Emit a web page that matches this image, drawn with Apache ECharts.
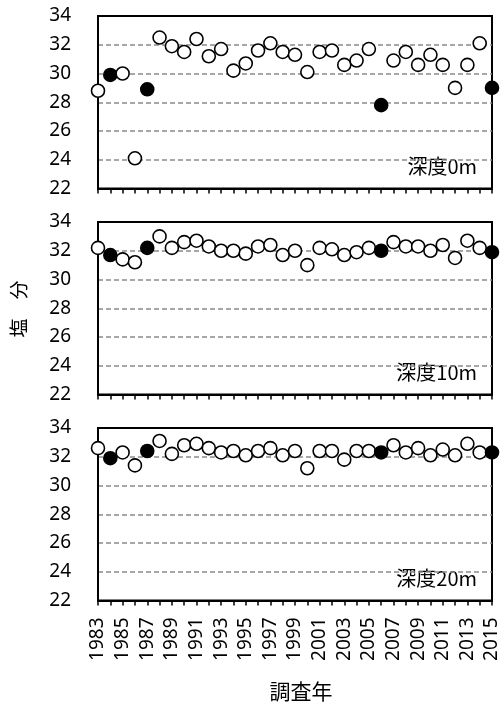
<!DOCTYPE html>
<html>
<head>
<meta charset="utf-8">
<script src="https://cdn.jsdelivr.net/npm/echarts@6/dist/echarts.min.js"></script>
<style>
html,body{margin:0;padding:0;background:#fff;}
#chart{width:503px;height:703px;}
</style>
</head>
<body>
<div id="chart"></div>
<script>
const years = [1983,1984,1985,1986,1987,1988,1989,1990,1991,1992,1993,1994,1995,1996,1997,1998,1999,2000,2001,2002,2003,2004,2005,2006,2007,2008,2009,2010,2011,2012,2013,2014,2015];
const filledYears = [1984, 1987, 2006, 2015];
const sal0m  = [28.8,29.9,30.0,24.1,28.9,32.5,31.9,31.5,32.4,31.2,31.7,30.2,30.7,31.6,32.1,31.5,31.3,30.1,31.5,31.6,30.6,30.9,31.7,27.8,30.9,31.5,30.6,31.3,30.6,29.0,30.6,32.1,29.0];
const sal10m = [32.2,31.7,31.4,31.2,32.2,33.0,32.2,32.6,32.7,32.3,32.0,32.0,31.8,32.3,32.4,31.7,32.0,31.0,32.2,32.1,31.7,31.9,32.2,32.0,32.6,32.3,32.3,32.0,32.4,31.5,32.7,32.2,31.9];
const sal20m = [32.6,31.9,32.3,31.4,32.4,33.1,32.2,32.8,32.9,32.6,32.3,32.4,32.1,32.4,32.6,32.1,32.4,31.2,32.4,32.4,31.8,32.4,32.4,32.3,32.8,32.3,32.6,32.1,32.5,32.1,32.9,32.3,32.3];
const depthLabels = ['深度0m', '深度10m', '深度20m'];
const yTitle = '塩　分';
const xTitle = '調査年';

const panels = [sal0m, sal10m, sal20m];
const tops = [16, 222, 428];
const H = 172.5;
const numFont = "'Noto Sans', 'Liberation Sans', sans-serif";
const jpFont = "'Noto Sans CJK JP', sans-serif";

const chart = echarts.init(document.getElementById('chart'), null, {renderer: 'canvas'});

const grids = [], xAxes = [], yAxes = [], series = [], graphics = [];
panels.forEach((vals, i) => {
  grids.push({left: 98, right: 11, top: tops[i], height: H, show: true,
    borderColor: '#000', borderWidth: 2, backgroundColor: 'transparent', containLabel: false});
  xAxes.push({type: 'value', gridIndex: i, min: 1983, max: 2015, interval: 1,
    axisLine: {show: true, onZero: false, lineStyle: {color: '#000', width: 2}},
    axisTick: {show: true, inside: false, length: 5, lineStyle: {color: '#000', width: 1.5}},
    splitLine: {show: false},
    axisLabel: {show: i === 2, rotate: 90, margin: 17, color: '#000', fontSize: 19, fontFamily: numFont,
      formatter: v => (v % 2 === 1 ? String(v) : '')}
  });
  yAxes.push({type: 'value', gridIndex: i, min: 22, max: 34, interval: 2,
    axisLine: {show: true, lineStyle: {color: '#000', width: 2}},
    axisTick: {show: false},
    splitLine: {show: true, lineStyle: {type: [5, 3], width: 1.5,
      color: ['rgba(0,0,0,0)', '#8a8a8a', '#8a8a8a', '#8a8a8a', '#8a8a8a', '#8a8a8a', 'rgba(0,0,0,0)']}},
    axisLabel: {color: '#000', fontSize: 19, fontFamily: numFont, margin: 27}
  });
  const data = years.map((y, k) => {
    const filled = filledYears.indexOf(y) >= 0;
    return {value: [y, vals[k]], itemStyle: {color: filled ? '#000' : '#fff', borderColor: '#000', borderWidth: 1.6, opacity: 1}};
  });
  series.push({type: 'scatter', xAxisIndex: i, yAxisIndex: i, symbol: 'circle', symbolSize: 13,
    clip: false, data: data, z: 5, itemStyle: {opacity: 1}, emphasis: {disabled: true}});
  graphics.push({type: 'text', right: 26, top: tops[i] + H - 32,
    style: {text: depthLabels[i], fill: '#000', font: "20px " + jpFont}});
});

graphics.push({type: 'text', x: 19, y: 309, rotation: Math.PI / 2,
  style: {text: yTitle, fill: '#000', font: "19px " + jpFont, textAlign: 'center', textVerticalAlign: 'middle'}});
graphics.push({type: 'text', x: 301, y: 691,
  style: {text: xTitle, fill: '#000', font: "21px " + jpFont, textAlign: 'center', textVerticalAlign: 'middle'}});

chart.setOption({
  animation: false,
  backgroundColor: '#fff',
  grid: grids,
  xAxis: xAxes,
  yAxis: yAxes,
  series: series,
  graphic: graphics
});
</script>
</body>
</html>
